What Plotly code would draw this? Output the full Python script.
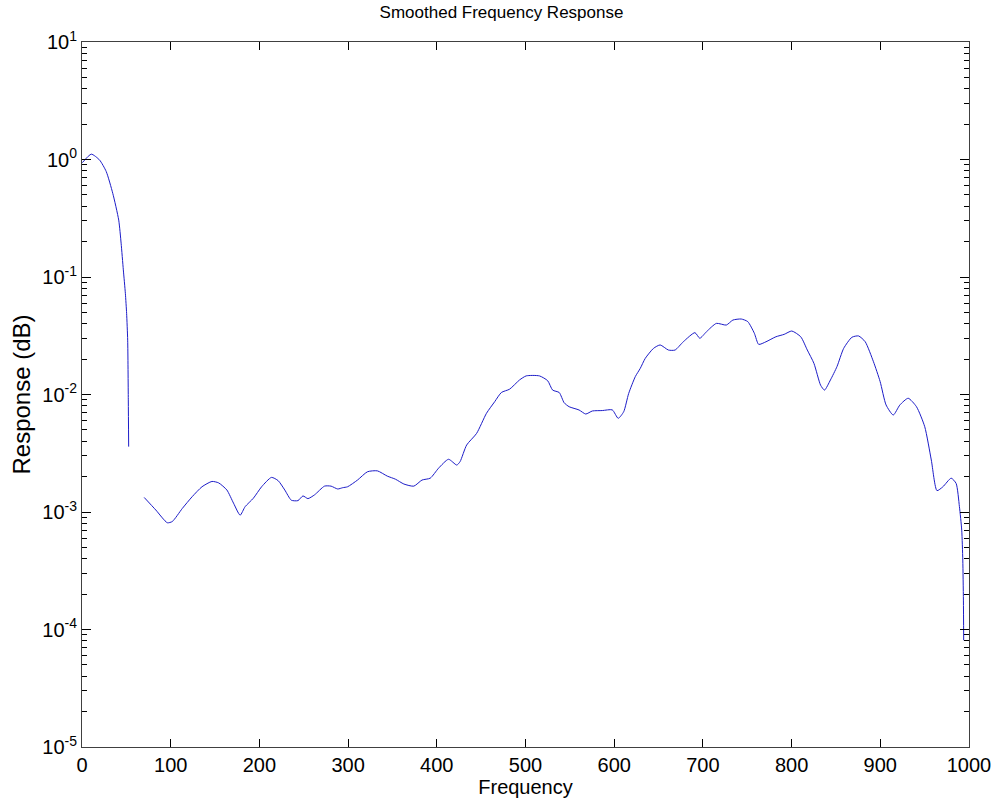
import plotly.graph_objects as go

# Segment 1 (low-frequency lobe)
freq_a = [0.4, 10.5, 19.8, 27.3, 34.7, 41.4, 44.1, 46.6, 48.9, 50.3, 51.5, 52.2, 52.6]
resp_a = [0.94, 1.11, 0.99, 0.79, 0.515, 0.305, 0.194, 0.115, 0.0726, 0.049, 0.029, 0.009, 0.0036]

# Segment 2 (rest of band)
freq_b = [70.1, 83.2, 96.2, 101.8, 113.0, 124.2, 135.3, 146.5, 154.0, 163.3, 170.8, 178.3,
          183.9, 193.2, 202.5, 213.6, 221.1, 228.6, 236.0, 243.5, 249.1, 254.7, 262.2, 273.4,
          280.8, 288.3, 293.9, 299.4, 310.6, 321.8, 333.0, 344.2, 353.5, 362.9, 374.1, 383.3,
          392.6, 402.0, 413.2, 422.5, 426.2, 433.7, 444.9, 456.0, 465.3, 472.8, 482.1, 493.3,
          500.8, 515.7, 525.0, 530.6, 538.0, 543.6, 549.2, 560.4, 567.9, 575.4, 586.6, 597.8,
          604.5, 610.7, 616.3, 623.8, 629.4, 635.0, 644.3, 651.8, 661.1, 668.6, 677.9, 691.0,
          696.5, 704.0, 715.2, 726.4, 733.8, 743.2, 750.6, 758.0, 762.9, 771.1, 782.3, 791.6,
          800.2, 810.3, 817.7, 825.2, 832.7, 837.1, 843.8, 851.2, 858.7, 868.0, 875.5, 883.0,
          892.3, 899.8, 906.5, 914.6, 922.1, 931.4, 940.8, 950.1, 957.5, 963.9, 970.6, 979.9,
          985.5, 989.2, 991.8, 993.0, 993.7, 994.0]
resp_b = [1.33e-3, 1.04e-3, 8.1e-4, 8.3e-4, 1.07e-3, 1.35e-3, 1.64e-3, 1.82e-3, 1.77e-3, 1.54e-3, 1.19e-3, 9.4e-4,
          1.11e-3, 1.31e-3, 1.64e-3, 1.97e-3, 1.85e-3, 1.54e-3, 1.26e-3, 1.25e-3, 1.37e-3, 1.30e-3, 1.40e-3, 1.66e-3,
          1.66e-3, 1.57e-3, 1.61e-3, 1.64e-3, 1.87e-3, 2.20e-3, 2.24e-3, 2.02e-3, 1.90e-3, 1.73e-3, 1.66e-3, 1.87e-3,
          1.94e-3, 2.36e-3, 2.81e-3, 2.51e-3, 2.68e-3, 3.72e-3, 4.67e-3, 6.92e-3, 8.69e-3, 1.04e-2, 1.11e-2, 1.33e-2,
          1.44e-2, 1.44e-2, 1.31e-2, 1.09e-2, 1.04e-2, 8.5e-3, 7.87e-3, 7.38e-3, 6.82e-3, 7.24e-3, 7.3e-3, 7.4e-3,
          6.27e-3, 7.13e-3, 1.02e-2, 1.42e-2, 1.67e-2, 2.03e-2, 2.47e-2, 2.64e-2, 2.39e-2, 2.39e-2, 2.81e-2, 3.36e-2,
          3.01e-2, 3.42e-2, 4.03e-2, 3.90e-2, 4.30e-2, 4.39e-2, 4.17e-2, 3.32e-2, 2.67e-2, 2.81e-2, 3.10e-2, 3.25e-2,
          3.47e-2, 3.10e-2, 2.39e-2, 1.84e-2, 1.20e-2, 1.09e-2, 1.33e-2, 1.73e-2, 2.47e-2, 3.07e-2, 3.15e-2, 2.81e-2,
          1.90e-2, 1.29e-2, 8.15e-3, 6.69e-3, 8.15e-3, 9.29e-3, 7.87e-3, 5.32e-3, 2.77e-3, 1.52e-3, 1.64e-3, 1.94e-3,
          1.75e-3, 1.11e-3, 7.0e-4, 3.9e-4, 1.78e-4, 8.1e-5]

x_ticks = [0, 100, 200, 300, 400, 500, 600, 700, 800, 900, 1000]
y_exps = [-5, -4, -3, -2, -1, 0, 1]

x_all = freq_a + [None] + freq_b
y_all = resp_a + [None] + resp_b

fig = go.Figure()
fig.add_trace(go.Scatter(x=x_all, y=y_all, mode="lines", connectgaps=False,
                         line=dict(color="#1c1cc8", width=1, shape="spline", smoothing=0.6),
                         showlegend=False, hoverinfo="x+y"))

minor_vals = [m * 10 ** e for e in y_exps[:-1] for m in range(2, 10)]

font = "Arial, Liberation Sans, sans-serif"
fig.update_layout(
    width=1003, height=806,
    margin=dict(l=82, r=27, t=42, b=59),
    paper_bgcolor="white", plot_bgcolor="white",
    title=dict(text="Smoothed Frequency Response", x=0.5, xanchor="center",
               y=1 - 12 / 806, yanchor="middle",
               font=dict(family=font, size=17, color="black")),
    font=dict(family=font, size=20, color="black"),
)
fig.update_xaxes(
    range=[0, 1000], tickvals=x_ticks, ticktext=[str(v) for v in x_ticks],
    ticks="inside", ticklen=8, tickcolor="black", showline=True, linecolor="#404040",
    linewidth=1, mirror="ticks", showgrid=False, zeroline=False,
    tickfont=dict(family=font, size=20, color="black"),
    title=dict(text="Frequency", standoff=2, font=dict(family=font, size=20, color="black")),
)
fig.update_yaxes(
    type="log", range=[-5, 1],
    tickvals=[10 ** e for e in y_exps],
    ticktext=["10<sup>%d</sup>" % e for e in y_exps],
    ticks="inside", ticklen=9, tickcolor="black", showline=True, linecolor="#404040",
    linewidth=1, mirror="ticks", showgrid=False, zeroline=False,
    minor=dict(tickvals=minor_vals, ticks="inside", ticklen=5, tickcolor="black", showgrid=False),
    tickfont=dict(family=font, size=20, color="black"),
    title=dict(text="Response (dB)", standoff=4, font=dict(family=font, size=24, color="black")),
)

fig.write_html("out.html")
